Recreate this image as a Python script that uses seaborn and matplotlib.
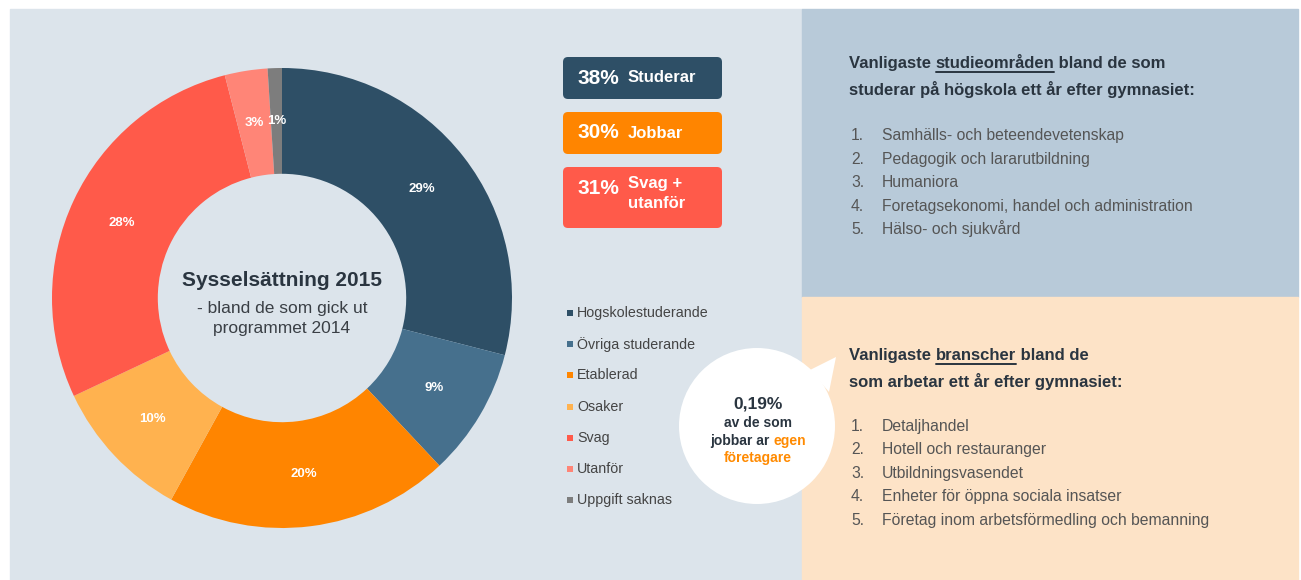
import matplotlib
matplotlib.use("Agg")
import matplotlib.pyplot as plt
import seaborn as sns
from matplotlib.patches import Rectangle, FancyBboxPatch, Circle, Polygon

# data
categories = ["Hogskolestuderande", "Övriga studerande", "Etablerad", "Osaker",
              "Svag", "Utanför", "Uppgift saknas"]
shares = [29, 9, 20, 10, 28, 3, 1]
group_pct = [38, 30, 31]
group_names = ["Studerar", "Jobbar", "Svag +\nutanför"]
study_fields = ["Samhälls- och beteendevetenskap", "Pedagogik och lararutbildning",
                "Humaniora", "Foretagsekonomi, handel och administration",
                "Hälso- och sjukvård"]
branches = ["Detaljhandel", "Hotell och restauranger", "Utbildningsvasendet",
            "Enheter för öppna sociala insatser",
            "Företag inom arbetsförmedling och bemanning"]

palette = ["#2e4f66", "#46708d", "#ff8500", "#ffb24f", "#ff5a4a", "#ff8577", "#7d7d7d"]
group_colors = [palette[0], palette[2], palette[4]]

sns.set_theme(style="white")
plt.rcParams["font.family"] = ["Liberation Sans", "DejaVu Sans"]

W, H = 1301, 580
fig = plt.figure(figsize=(W / 100, H / 100), dpi=100, facecolor="white")

# pixel-coordinate canvas for panels and text
bg = fig.add_axes([0, 0, 1, 1])
bg.set_xlim(0, W)
bg.set_ylim(H, 0)
bg.axis("off")

bg.add_patch(Rectangle((10, 9), 792, 571, color="#dce4eb", zorder=0))
bg.add_patch(Rectangle((802, 9), 496, 288, color="#b8cad9", zorder=0))
bg.add_patch(Rectangle((802, 297), 496, 283, color="#fde3c7", zorder=0))

# donut
cx, cy, R = 282, 298, 230
ax = fig.add_axes([(cx - R) / W, (H - cy - R) / H, 2 * R / W, 2 * R / H])
ax.set_facecolor("none")
wedges, _, autotexts = ax.pie(
    shares, colors=palette, startangle=90, counterclock=False, radius=1,
    wedgeprops=dict(width=0.46, linewidth=0),
    autopct=lambda p: f"{p:.0f}%", pctdistance=0.77,
    textprops=dict(color="white", fontsize=9.5, fontweight="bold"))
ax.set_xlim(-1, 1)
ax.set_ylim(-1, 1)
ax.set_aspect("equal")
ax.axis("off")

dark_txt = "#2a3540"
bg.text(cx, 281, "Sysselsättning 2015", ha="center", va="center",
        fontsize=15, fontweight="bold", color=dark_txt)
bg.text(cx, 308, "- bland de som gick ut", ha="center", va="center",
        fontsize=12.5, color="#3a3f45")
bg.text(cx, 329, "programmet 2014", ha="center", va="center",
        fontsize=12.5, color="#3a3f45")

# group boxes
box_y = [(57, 42), (112, 42), (167, 61)]
for (y0, h), pct, name, col in zip(box_y, group_pct, group_names, group_colors):
    bg.add_patch(FancyBboxPatch((563, y0), 159, h, boxstyle="round,pad=0,rounding_size=5",
                                color=col, linewidth=0))
    ty = y0 + 21
    bg.text(578, ty, f"{pct}%", ha="left", va="center", fontsize=15,
            fontweight="bold", color="white")
    bg.text(628, ty - 12 if "\n" in name else ty, name, ha="left",
            va="top" if "\n" in name else "center", fontsize=12,
            fontweight="bold", color="white", linespacing=1.45)

# category legend
for i, (cat, col) in enumerate(zip(categories, palette)):
    y = 313 + i * 31.2
    bg.add_patch(Rectangle((567, y - 3), 6, 6, color=col, linewidth=0))
    bg.text(577, y, cat, ha="left", va="center", fontsize=10.3, color="#444444")

# speech bubble
bg.add_patch(Polygon([(810, 370), (836, 357), (829, 392)], closed=True,
                     color="white", linewidth=0, zorder=2))
bg.add_patch(Circle((757, 426), 78, color="white", linewidth=0, zorder=2))
bg.text(758, 404, "0,19%", ha="center", va="center", fontsize=12.5,
        fontweight="bold", color=dark_txt, zorder=3)
bg.text(758, 423, "av de som", ha="center", va="center", fontsize=10,
        fontweight="bold", color=dark_txt, zorder=3)

fig.canvas.draw()
renderer = fig.canvas.get_renderer()


def run_text(x, y, parts, center=False, **kw):
    texts = []
    for s, col, ul in parts:
        t = bg.text(x, y, s, ha="left", va="baseline", color=col, zorder=3, **kw)
        texts.append((t, ul))
    widths = [t.get_window_extent(renderer).width for t, _ in texts]
    if center:
        x = x - sum(widths) / 2
    for (t, ul), w in zip(texts, widths):
        t.set_x(x)
        if ul:
            bg.plot([x, x + w], [y + 4, y + 4], color=t.get_color(),
                    linewidth=1.4, zorder=3)
        x += w


orange_txt = "#ff8a00"
run_text(758, 445, [("jobbar ar ", dark_txt, False), ("egen", orange_txt, False)],
         center=True, fontsize=10, fontweight="bold")
run_text(758, 462, [("företagare", orange_txt, False)], center=True,
         fontsize=10, fontweight="bold")

# right panels
run_text(849, 68, [("Vanligaste ", dark_txt, False), ("studieområden", dark_txt, True),
                   (" bland de som", dark_txt, False)], fontsize=12, fontweight="bold")
run_text(849, 95, [("studerar på högskola ett år efter gymnasiet:", dark_txt, False)],
         fontsize=12, fontweight="bold")
for i, item in enumerate(study_fields):
    y = 140 + i * 23.6
    bg.text(851, y, f"{i + 1}.", ha="left", va="baseline", fontsize=11.3, color="#555555")
    bg.text(882, y, item, ha="left", va="baseline", fontsize=11.3, color="#555555")

run_text(849, 360, [("Vanligaste ", dark_txt, False), ("branscher", dark_txt, True),
                    (" bland de", dark_txt, False)], fontsize=12, fontweight="bold")
run_text(849, 387, [("som arbetar ett år efter gymnasiet:", dark_txt, False)],
         fontsize=12, fontweight="bold")
for i, item in enumerate(branches):
    y = 431 + i * 23.4
    bg.text(851, y, f"{i + 1}.", ha="left", va="baseline", fontsize=11.3, color="#555555")
    bg.text(882, y, item, ha="left", va="baseline", fontsize=11.3, color="#555555")

fig.savefig("out.png", dpi=100, facecolor="white")
